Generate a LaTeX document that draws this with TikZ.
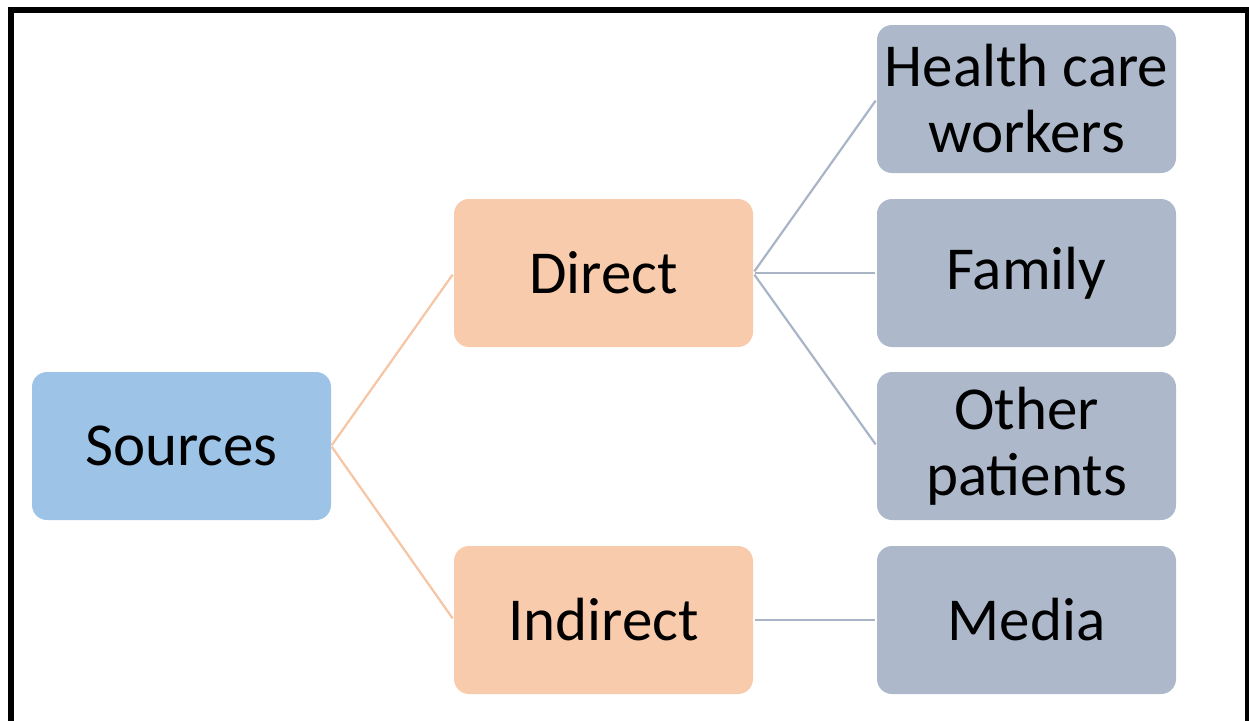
\documentclass[tikz,border=0pt]{standalone}
\usepackage{fontspec}
\setmainfont{Carlito}
\definecolor{srcblue}{HTML}{9DC3E6}
\definecolor{peach}{HTML}{F8CBAD}
\definecolor{slate}{HTML}{ADB9CA}
\definecolor{peachline}{HTML}{F6C5A3}
\definecolor{slateline}{HTML}{A9B5C7}
\begin{document}
\begin{tikzpicture}[x=1pt,y=-1pt,
  box/.style={rectangle, rounded corners=15pt, minimum width=299pt, minimum height=148pt,
    inner sep=0pt, align=center, font=\fontsize{61}{66}\selectfont, text=black},
  rootbox/.style={box, fill=srcblue},
  midbox/.style={box, fill=peach},
  leafbox/.style={box, fill=slate},
  midlink/.style={draw=peachline, line width=2.2pt, shorten <=1pt, shorten >=2pt},
  leaflink/.style={draw=slateline, line width=2.2pt, shorten <=2pt, shorten >=2pt}]
  \useasboundingbox (0,0) rectangle (1249,720);
  \clip (0,0) rectangle (1249,720);
  % outer frame, open at the bottom edge
  \draw[line width=6pt, line join=miter] (11,740) -- (11,10) -- (1247.5,10) -- (1247.5,740);

  % tree nodes
  \node[rootbox] (src) at (181.5,446) {Sources};
  \node[midbox] (dir) at (603.5,273) {Direct};
  \node[midbox] (ind) at (603.5,620) {Indirect};
  \node[leafbox] (hcw) at (1026.5,99) {Health care\\workers};
  \node[leafbox] (fam) at (1026.5,273) {Family};
  \node[leafbox] (oth) at (1026.5,446) {Other\\patients};
  \node[leafbox] (med) at (1026.5,620) {Media};

  % connectors
  \draw[midlink] (src.east) -- (dir.west);
  \draw[midlink] (src.east) -- (ind.west);
  \draw[leaflink] (dir.east) -- (hcw.west);
  \draw[leaflink] (dir.east) -- (fam.west);
  \draw[leaflink] (dir.east) -- (oth.west);
  \draw[leaflink] (ind.east) -- (med.west);
\end{tikzpicture}
\end{document}
